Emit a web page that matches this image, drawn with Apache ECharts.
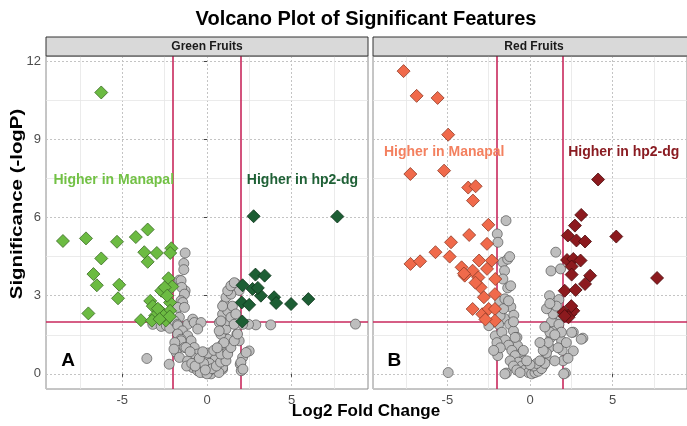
<!DOCTYPE html>
<html><head><meta charset="utf-8">
<script src="https://cdn.jsdelivr.net/npm/echarts@6/dist/echarts.min.js"></script>
<style>html,body{margin:0;padding:0;background:#fff}#c{width:687px;height:426px}</style>
</head><body><div id="c"></div>
<script>
// ---------- DATA ----------
const panels = ['Green Fruits', 'Red Fruits'];
const xTicks = [-5, 0, 5];
const yTicks = [0, 3, 6, 9, 12];
const xMinor = [-7.5, -2.5, 2.5, 7.5];
const yMinor = [1.5, 4.5, 7.5, 10.5];
const fcCut = [-2, 2];
const pCut = [2];

const greenManapal = [[-6.24,10.8],[-8.5,5.1],[-7.14,5.2],[-5.31,5.07],[-4.2,5.25],[-3.5,5.54],[-6.24,4.43],[-3.7,4.67],[-2.96,4.64],[-2.1,4.82],[-2.17,4.64],[-3.5,4.3],[-6.7,3.83],[-6.5,3.4],[-5.18,3.42],[-5.25,2.9],[-7.0,2.32],[-2.27,3.67],[-2.05,3.35],[-2.7,3.19],[-2.5,3.32],[-3.35,2.8],[-3.2,2.6],[-2.76,2.42],[-2.18,2.74],[-2.18,2.42],[-3.06,2.23],[-3.9,2.06],[-2.43,2.05],[-3.25,2.04],[-2.57,2.23],[-2.2,2.2],[-2.9,2.5],[-2.35,3.0],[-2.8,2.1]];
const greenHp2 = [[2.75,6.05],[7.69,6.04],[2.86,3.81],[3.4,3.77],[2.1,3.4],[2.69,3.26],[3.18,3.0],[3.96,2.94],[4.08,2.72],[4.96,2.68],[5.98,2.87],[2.05,2.74],[2.49,2.65],[2.08,2.01],[3.0,3.3]];
const greenNS = [[-3.55,0.59],[-2.23,0.37],[8.76,1.91],[3.76,1.88],[2.88,1.88],[2.45,1.9],[2.1,1.9],[-3.2,1.9],[-2.7,1.82],[-2.4,1.85],[-2.2,1.75],
[-1.29,4.64],[-1.37,4.24],[-1.37,4.0],[-1.63,3.6],[-1.53,3.58],[-1.29,3.19],[-1.49,3.32],[-1.33,3.06],[-1.53,2.81],[-1.43,2.74],[-1.73,2.55],[-1.33,2.55],[-1.63,2.17],[-1.92,2.03],[-1.73,1.9],[-1.14,1.9],[-0.84,2.1],[-0.75,1.97],[-0.35,1.97],[-1.72,1.85],[-1.45,1.65],[-1.73,1.53],[-1.14,1.46],[-1.53,1.33],[-0.94,1.27],[-1.53,1.27],[-1.33,1.01],[-0.75,1.01],[-1.24,1.01],[-1.82,0.82],[-0.55,0.76],[-1.63,0.63],[-0.84,0.63],[-1.14,0.5],[-0.25,0.5],[-0.84,0.24],[-0.55,0.18],[-0.55,1.72],[-1.9,1.2],[-1.95,0.95],[-1.0,0.85],[-0.6,0.45],[-1.2,0.3],[-0.9,0.4],
[0.04,0.31],[0.24,0.24],[-0.16,0.18],[0.43,0.12],[0.92,0.18],[0.63,0.37],[-0.55,0.12],[-0.16,0.05],[0.24,0.0],[0.63,0.12],[0.92,0.24],[-0.3,0.3],[0.1,0.1],[0.35,0.45],[-0.05,0.6],[0.5,0.6],[-0.4,0.05],[0.0,0.0],[0.15,0.4],[-0.2,0.4],[0.7,0.05],[-0.7,0.3],[0.3,0.2],[-0.1,0.15],[0.55,0.3],[0.8,0.45],[-0.45,0.6],[0.05,0.8],[0.4,0.9],[-0.25,0.85],
[1.12,0.5],[0.82,0.76],[1.22,0.88],[0.92,1.14],[1.22,1.33],[0.82,1.52],[1.12,1.72],[0.73,1.97],[1.22,2.04],[0.92,2.29],[1.02,2.68],[1.12,2.94],[1.31,3.2],[1.51,3.4],[1.71,3.46],[1.9,3.2],[1.41,3.06],[1.22,2.42],[1.41,2.17],[1.76,1.52],[1.9,1.27],[2.49,0.88],[2.1,0.63],[1.96,0.37],[2.02,0.12],[1.22,0.76],[1.41,1.01],[1.61,1.27],[1.8,1.53],[2.31,0.82],[2.0,0.44],[2.12,0.18],[1.22,3.19],[1.41,3.38],[1.61,3.5],[0.92,2.6],[0.82,2.03],[0.72,1.65],[1.0,1.2],[0.6,1.0],[1.5,2.6],[1.7,2.3],[1.6,1.9]];

const redManapal = [[-7.65,11.62],[-6.86,10.67],[-5.59,10.59],[-4.95,9.18],[-7.24,7.67],[-5.2,7.8],[-3.74,7.15],[-3.29,7.2],[-3.45,6.65],[-2.52,5.72],[-3.68,5.33],[-4.78,5.05],[-2.6,4.99],[-5.72,4.67],[-4.86,4.5],[-7.23,4.22],[-6.65,4.32],[-3.08,4.35],[-2.31,4.35],[-2.6,4.03],[-4.14,4.09],[-3.47,3.96],[-3.95,3.77],[-3.12,3.7],[-2.1,3.64],[-2.99,3.32],[-2.12,3.06],[-2.79,2.94],[-3.47,2.49],[-2.89,2.29],[-2.5,2.49],[-2.12,2.49],[-2.12,2.04],[-2.7,2.09],[-4.0,3.85],[-3.3,3.5]];
const redHp2 = [[4.12,7.46],[3.1,6.1],[2.72,5.69],[2.29,5.31],[2.81,5.12],[3.33,5.08],[5.22,5.27],[2.24,4.37],[2.62,4.41],[3.06,4.35],[2.52,4.12],[2.52,3.81],[3.64,3.77],[3.33,3.45],[2.1,3.19],[2.76,3.22],[7.69,3.68],[2.04,2.36],[2.43,2.29],[2.62,2.42],[2.33,2.17],[2.1,2.22],[2.5,2.6]];
const redNS = [[-4.95,0.05],[-1.43,0.03],[2.14,0.03],[3.2,1.37],[2.62,1.6],[1.56,4.67],[1.27,3.95],[1.85,4.03],[1.18,3.0],[1.75,2.85],
[-1.45,5.88],[-1.98,5.37],[-1.94,5.05],[-1.64,4.28],[-1.35,4.4],[-1.54,3.96],[-1.64,3.64],[-1.35,3.3],[-1.83,2.78],[-1.16,2.57],[-1.54,2.12],[-0.98,2.25],[-1.23,4.5],[-1.17,3.38],[-1.52,2.88],
[-2.49,1.85],[-2.1,1.46],[-1.81,2.23],[-1.23,1.9],[-1.0,1.65],[-0.79,1.4],[-0.75,1.08],[-0.56,0.77],[-0.37,0.5],[-0.17,0.24],[0.02,0.12],[0.41,0.18],[0.79,0.31],[0.98,0.63],[1.18,1.01],[1.27,1.4],[1.37,1.78],[1.56,2.1],[1.47,2.42],[1.85,2.23],[2.52,1.59],[3.1,1.33],[1.91,1.27],[2.62,0.88],[2.04,0.0],[-1.52,0.0],
[-1.9,1.9],[-1.7,1.6],[-1.5,1.3],[-1.3,1.1],[-1.1,0.9],[-0.9,0.7],[-0.7,0.45],[-0.5,0.3],[-0.3,0.15],[-0.1,0.05],[0.1,0.0],[0.3,0.05],[0.5,0.1],[0.7,0.2],[0.9,0.4],[1.0,0.8],[1.1,1.2],[1.2,1.6],[1.3,2.0],[1.4,2.3],[1.6,2.6],[1.75,1.9],[1.9,1.6],[1.95,0.9],[2.0,0.5],[-2.0,1.2],[-1.95,0.7],[-1.8,1.0],[-1.2,0.5],[-1.0,0.3],[-0.8,0.15],[-0.6,0.05],[0.2,0.3],[0.4,0.4],[0.6,0.5],[0.0,0.35],[-0.2,0.5],[0.8,0.9],[0.6,1.2],[-0.4,0.9],[1.5,0.5],[1.7,1.0],[-1.6,2.5],[-1.3,2.8],[-1.0,2.0],[1.0,2.5],[1.2,2.7],[0.9,1.8],[-0.9,1.4],[1.5,1.5],[2.2,1.2],[2.3,0.6],[-2.2,0.9]];

const annotLeft = [['Higher in Manapal', -9.06, 7.42], ['Higher in hp2-dg', 2.35, 7.42]];
const annotRight = [['Higher in Manapal', -8.84, 8.5], ['Higher in hp2-dg', 2.31, 8.5]];
const panelTags = ['A', 'B'];
const tagPos = [-8.2, 0.5];

// ---------- CHART ----------
const FONT = 'Liberation Sans, Arial, sans-serif';
const chart = echarts.init(document.getElementById('c'), null, {renderer: 'canvas'});
const grids = [
  {left: 46, top: 56, width: 322, height: 333},
  {left: 373, top: 56, width: 322, height: 333}
];
const cols = [
  {up: greenManapal, dn: greenHp2, ns: greenNS, c1: '#6cbb42', b1: '#3a6a25', c2: '#1d5e34', b2: '#0c341b', t1: '#72c145', t2: '#1f6136', ann: annotLeft},
  {up: redManapal, dn: redHp2, ns: redNS, c1: '#f06a4b', b1: '#8e3a26', c2: '#8c1a1e', b2: '#4a0b0d', t1: '#f3805f', t2: '#8a1c22', ann: annotRight}
];

const series = [];
[0, 1].forEach(i => {
  const c = cols[i];
  series.push({
    type: 'scatter', xAxisIndex: i, yAxisIndex: i, data: [], silent: true, z: 1,
    markLine: {silent: true, symbol: 'none', label: {show: false}, animation: false, z: 1,
      lineStyle: {color: '#e6e6e6', type: 'solid', width: 0.8},
      data: xMinor.map(v => ({xAxis: v})).concat(yMinor.map(v => ({yAxis: v})))}
  });
  series.push({
    type: 'scatter', xAxisIndex: i, yAxisIndex: i, data: [], silent: true, z: 2,
    markLine: {silent: true, symbol: 'none', label: {show: false}, animation: false, z: 2,
      lineStyle: {color: '#c8285c', type: 'solid', width: 1.6},
      data: fcCut.map(v => ({xAxis: v})).concat(pCut.map(v => ({yAxis: v})))}
  });
  series.push({
    type: 'scatter', xAxisIndex: i, yAxisIndex: i, data: c.ns, z: 6,
    symbol: 'circle', symbolSize: 10,
    itemStyle: {color: '#bebebe', borderColor: '#555', borderWidth: 0.7, opacity: 1}
  });
  series.push({
    type: 'scatter', xAxisIndex: i, yAxisIndex: i, data: c.up, z: 7,
    symbol: 'diamond', symbolSize: 13,
    itemStyle: {color: c.c1, borderColor: c.b1, borderWidth: 0.8, opacity: 1}
  });
  series.push({
    type: 'scatter', xAxisIndex: i, yAxisIndex: i, data: c.dn, z: 7,
    symbol: 'diamond', symbolSize: 13,
    itemStyle: {color: c.c2, borderColor: c.b2, borderWidth: 0.8, opacity: 1}
  });
  series.push({
    type: 'scatter', xAxisIndex: i, yAxisIndex: i, z: 8, silent: true, symbolSize: 0,
    itemStyle: {opacity: 1},
    data: c.ann.map((a, k) => ({value: [a[1], a[2]], name: a[0],
      label: {show: true, position: 'right', distance: 0, formatter: a[0], opacity: 1,
        color: k === 0 ? c.t1 : c.t2, fontSize: 14, fontWeight: 'bold', fontFamily: FONT}}))
  });
  series.push({
    type: 'scatter', xAxisIndex: i, yAxisIndex: i, z: 8, silent: true, symbolSize: 0,
    itemStyle: {opacity: 1},
    data: [{value: tagPos, label: {show: true, position: 'inside', formatter: panelTags[i], opacity: 1,
      color: '#000', fontSize: 19, fontWeight: 'bold', fontFamily: FONT}}]
  });
});

const option = {
  animation: false,
  backgroundColor: '#ffffff',
  grid: grids.map(g => Object.assign({show: true, borderColor: '#8c8c8c', borderWidth: 1, backgroundColor: '#fff', containLabel: false}, g)),
  xAxis: [0, 1].map(i => ({
    gridIndex: i, type: 'value', min: -9.5, max: 9.5, splitNumber: 4,
    axisLine: {show: false},
    axisTick: {show: true, length: 3, lineStyle: {color: '#444'}},
    axisLabel: {color: '#4d4d4d', fontSize: 13, fontFamily: FONT, margin: 5,
      showMinLabel: false, showMaxLabel: false,
      formatter: v => (xTicks.indexOf(v) >= 0 ? String(v) : '')},
    splitLine: {show: true, lineStyle: {color: '#c4c4c4', type: [2, 2], width: 1}}
  })),
  yAxis: [0, 1].map(i => ({
    gridIndex: i, type: 'value', min: -0.581, max: 12.2, splitNumber: 4,
    axisLine: {show: false},
    axisTick: {show: i === 0, length: 3, lineStyle: {color: '#444'}},
    axisLabel: {show: i === 0, color: '#4d4d4d', fontSize: 13, fontFamily: FONT, margin: 5,
      showMinLabel: false, showMaxLabel: false,
      formatter: v => (yTicks.indexOf(v) >= 0 ? String(v) : '')},
    splitLine: {show: true, lineStyle: {color: '#c4c4c4', type: [2, 2], width: 1}}
  })),
  graphic: [
    {type: 'text', x: 366, y: 19, z: 10,
      style: {text: 'Volcano Plot of Significant Features', font: 'bold 20px ' + FONT, fill: '#000', textAlign: 'center', textVerticalAlign: 'middle'}},
    {type: 'rect', shape: {x: 46, y: 37, width: 322, height: 19}, z: 10,
      style: {fill: '#d9d9d9', stroke: '#333', lineWidth: 1}},
    {type: 'text', x: 207, y: 46.5, z: 11,
      style: {text: panels[0], font: 'bold 12px ' + FONT, fill: '#1a1a1a', textAlign: 'center', textVerticalAlign: 'middle'}},
    {type: 'rect', shape: {x: 373, y: 37, width: 322, height: 19}, z: 10,
      style: {fill: '#d9d9d9', stroke: '#333', lineWidth: 1}},
    {type: 'text', x: 534, y: 46.5, z: 11,
      style: {text: panels[1], font: 'bold 12px ' + FONT, fill: '#1a1a1a', textAlign: 'center', textVerticalAlign: 'middle'}},
    {type: 'text', x: 366, y: 411, z: 10,
      style: {text: 'Log2 Fold Change', font: 'bold 17px ' + FONT, fill: '#000', textAlign: 'center', textVerticalAlign: 'middle'}},
    {type: 'text', x: 17, y: 204, rotation: Math.PI / 2, scaleX: 1.2, z: 10,
      style: {text: 'Significance (-logP)', font: 'bold 17px ' + FONT, fill: '#000', textAlign: 'center', textVerticalAlign: 'middle'}}
  ],
  series: series
};
chart.setOption(option);
</script>
</body></html>
